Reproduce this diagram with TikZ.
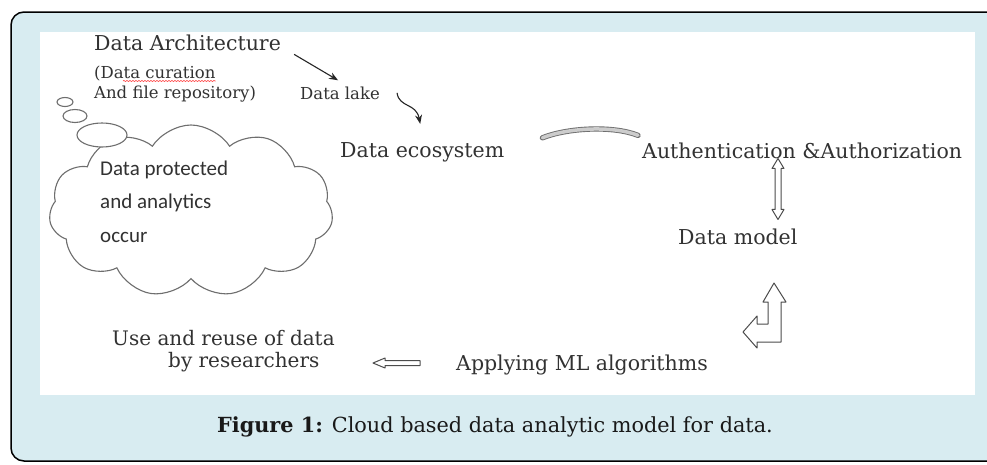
\documentclass[tikz,border=0pt]{standalone}
\usepackage{fontspec}
\setmainfont{DejaVu Serif}
\newfontfamily\cloudfont{Carlito}
\usepackage{tikz}
\usetikzlibrary{arrows.meta, positioning, shapes.symbols, decorations.pathmorphing}
\usepackage{xcolor}
\definecolor{panelblue}{RGB}{216, 236, 241}
\definecolor{textgray}{RGB}{50, 50, 50}
\definecolor{linegray}{RGB}{110, 110, 110}

\tikzset{
    stagetext/.style={text=textgray, inner sep=0pt, anchor=base west, font=\fontsize{20.5}{24}\selectfont},
    smalltext/.style={text=textgray, inner sep=0pt, anchor=base west, font=\fontsize{16.5}{20}\selectfont},
    cloudtext/.style={text=textgray, inner sep=0pt, anchor=base west, font=\cloudfont\fontsize{21}{24}\selectfont},
    thinarrow/.style={-{Stealth[length=9pt, width=7pt]}, line width=1.1pt, black!85},
    blockarrow/.style={draw=black!70, fill=white, line width=1pt, line join=round}
}

\begin{document}
\begin{tikzpicture}[x=1pt, y=-1pt]
    \useasboundingbox (0,0) rectangle (987,464);
    \clip (0,0) rectangle (987,464);
    \fill[white] (0,0) rectangle (987,464);
    \draw[fill=panelblue, line width=1.5pt, rounded corners=13pt] (11,12) rectangle (1020,461);
    \fill[white] (40,32) rectangle (975,395);

    % thought cloud with its bubbles
    \node[cloud, cloud puffs=11, cloud puff arc=115, cloud ignores aspect, draw=linegray, fill=white, line width=1.1pt, minimum width=284pt, minimum height=172pt, inner sep=0pt] (thought) at (191,211) {};
    \draw[linegray, fill=white, line width=1.1pt] (102,135) ellipse [x radius=25, y radius=12];
    \draw[linegray, fill=white, line width=1.1pt] (75,116) ellipse [x radius=12, y radius=6.5];
    \draw[linegray, fill=white, line width=1.1pt] (65,102) ellipse [x radius=8, y radius=4.5];
    \node[cloudtext] (cloud1) at (100,175) {Data protected};
    \node[cloudtext] (cloud2) at (100,208) {and analytics};
    \node[cloudtext] (cloud3) at (100,242) {occur};

    % upper chain
    \node[stagetext] (arch) at (94,50) {Data Architecture};
    \node[smalltext] (cur1) at (94,78) {(Data curation};
    \node[smalltext] (cur2) at (94,98) {And file repository)};
    \draw[red!75, line width=0.6pt, decorate, decoration={snake, amplitude=0.6pt, segment length=3pt}] ([shift={(29,3)}]cur1.base west) -- ([shift={(0,3)}]cur1.base east);
    \node[smalltext] (lake) at (300,99) {Data lake};
    \node[stagetext] (eco) at (340,157) {Data ecosystem};
    \node[stagetext] (auth) at (642,158) {Authentication \&Authorization};
    \node[stagetext] (model) at (678,244) {Data model};

    % lower row
    \node[stagetext, font=\fontsize{20}{24}\selectfont] (reuse1) at (112,345) {Use and reuse of data};
    \node[stagetext, font=\fontsize{20}{24}\selectfont] (reuse2) at (168,367) {by researchers};
    \node[stagetext] (apply) at (456,370) {Applying ML algorithms};

    \node[text=black!90, inner sep=0pt, anchor=base, font=\fontsize{20.8}{24}\selectfont] (caption) at (495,432) {\textbf{Figure 1:} Cloud based data analytic model for data.};

    % connectors
    \draw[thinarrow] ([shift={(13,12)}]arch.east) -- ([shift={(-2,-6)}]lake.north);
    \draw[thinarrow] ([shift={(17,0)}]lake.east) .. controls +(2,15) and +(-4,-21) .. ([shift={(-2,-18)}]eco.north);
    \draw[double=gray!40, double distance=3.5pt, line width=0.9pt, draw=linegray, line cap=round] ([shift={(38,-14)}]eco.east) .. controls +(25,-10) and +(-25,-10) .. ([shift={(-4,-15)}]auth.west);

    % outline block arrows
    \coordinate (modeltop) at (778,223);
    \coordinate (authtip) at (auth.south -| modeltop);
    \draw[blockarrow] (authtip) -- ++(6,10) -- ++(-3,0) -- ++(0,41) -- ++(3,0) -- ++(-6,10) -- ++(-6,-10) -- ++(3,0) -- ++(0,-41) -- ++(-3,0) -- cycle;

    \coordinate (bendtop) at (774,283);
    \draw[blockarrow] (bendtop) -- ++(12,19) -- ++(-5,0) -- ++(0,40) -- ++(-24,0) -- ++(0,6) -- ++(-14,-16) -- ++(14,-16) -- ++(0,8) -- ++(11,0) -- ++(0,-22) -- ++(-5,0) -- cycle;

    \coordinate (reusein) at (373,363);
    \draw[blockarrow] (reusein) -- ++(12,-5) -- ++(0,2.5) -- ++(35,0) -- ++(0,5) -- ++(-35,0) -- ++(0,2.5) -- cycle;
\end{tikzpicture}
\end{document}
